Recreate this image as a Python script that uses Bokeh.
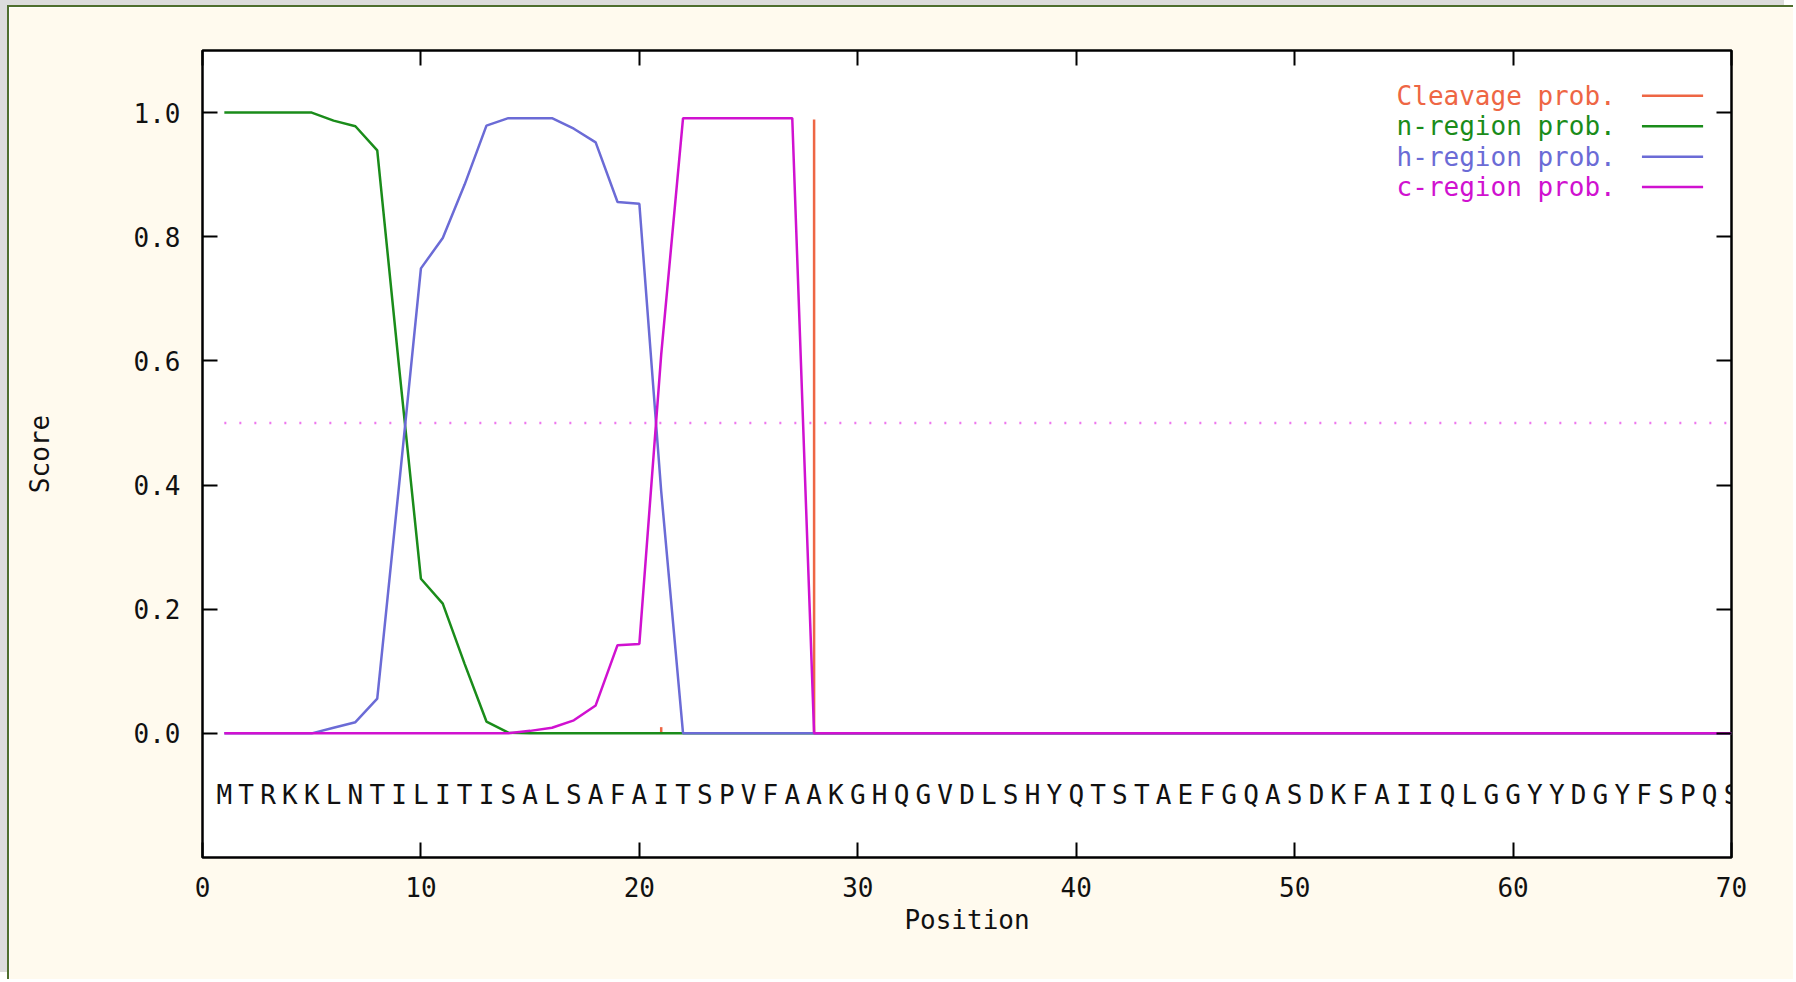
from bokeh.plotting import figure
from bokeh.models import Range1d, FixedTicker, PrintfTickFormatter, LinearAxis, CustomJSTickFormatter
from bokeh.embed import file_html
from bokeh.resources import INLINE

# ---------------- data ----------------
positions = [
    1, 2, 3, 4, 5, 6, 7, 8, 9, 10,
    11, 12, 13, 14, 15, 16, 17, 18, 19, 20,
    21, 22, 23, 24, 25, 26, 27, 28, 29, 30,
    31, 32, 33, 34, 35, 36, 37, 38, 39, 40,
    41, 42, 43, 44, 45, 46, 47, 48, 49, 50,
    51, 52, 53, 54, 55, 56, 57, 58, 59, 60,
    61, 62, 63, 64, 65, 66, 67, 68, 69, 70,
]
residues = list("MTRKKLNTILITISALSAFAITSPVFAAKGHQGVDLSHYQTSTAEFGQASDKFAIIQLGGYYDGYFSPQS")

cleavage = [
    0.0, 0.0, 0.0, 0.0, 0.0, 0.0, 0.0, 0.0, 0.0, 0.0,
    0.0, 0.0, 0.0, 0.0, 0.0, 0.0, 0.0, 0.0, 0.0, 0.0,
    0.010, 0.0, 0.0, 0.0, 0.0, 0.0, 0.0, 0.989, 0.0, 0.0,
    0.0, 0.0, 0.0, 0.0, 0.0, 0.0, 0.0, 0.0, 0.0, 0.0,
    0.0, 0.0, 0.0, 0.0, 0.0, 0.0, 0.0, 0.0, 0.0, 0.0,
    0.0, 0.0, 0.0, 0.0, 0.0, 0.0, 0.0, 0.0, 0.0, 0.0,
    0.0, 0.0, 0.0, 0.0, 0.0, 0.0, 0.0, 0.0, 0.0, 0.0,
]
n_region = [
    1.000, 1.000, 1.000, 1.000, 1.000, 0.987, 0.978, 0.939, 0.590, 0.249,
    0.209, 0.112, 0.019, 0.001, 0.0, 0.0, 0.0, 0.0, 0.0, 0.0,
    0.0, 0.0, 0.0, 0.0, 0.0, 0.0, 0.0, 0.0, 0.0, 0.0,
    0.0, 0.0, 0.0, 0.0, 0.0, 0.0, 0.0, 0.0, 0.0, 0.0,
    0.0, 0.0, 0.0, 0.0, 0.0, 0.0, 0.0, 0.0, 0.0, 0.0,
    0.0, 0.0, 0.0, 0.0, 0.0, 0.0, 0.0, 0.0, 0.0, 0.0,
    0.0, 0.0, 0.0, 0.0, 0.0, 0.0, 0.0, 0.0, 0.0, 0.0,
]
h_region = [
    0.0, 0.0, 0.0, 0.0, 0.0, 0.009, 0.018, 0.056, 0.400, 0.749,
    0.798, 0.884, 0.979, 0.991, 0.991, 0.991, 0.974, 0.952, 0.856, 0.853,
    0.390, 0.0, 0.0, 0.0, 0.0, 0.0, 0.0, 0.0, 0.0, 0.0,
    0.0, 0.0, 0.0, 0.0, 0.0, 0.0, 0.0, 0.0, 0.0, 0.0,
    0.0, 0.0, 0.0, 0.0, 0.0, 0.0, 0.0, 0.0, 0.0, 0.0,
    0.0, 0.0, 0.0, 0.0, 0.0, 0.0, 0.0, 0.0, 0.0, 0.0,
    0.0, 0.0, 0.0, 0.0, 0.0, 0.0, 0.0, 0.0, 0.0, 0.0,
]
c_region = [
    0.0, 0.0, 0.0, 0.0, 0.0, 0.0, 0.0, 0.0, 0.0, 0.0,
    0.0, 0.0, 0.0, 0.0, 0.004, 0.009, 0.021, 0.045, 0.142, 0.144,
    0.610, 0.991, 0.991, 0.991, 0.991, 0.991, 0.991, 0.0, 0.0, 0.0,
    0.0, 0.0, 0.0, 0.0, 0.0, 0.0, 0.0, 0.0, 0.0, 0.0,
    0.0, 0.0, 0.0, 0.0, 0.0, 0.0, 0.0, 0.0, 0.0, 0.0,
    0.0, 0.0, 0.0, 0.0, 0.0, 0.0, 0.0, 0.0, 0.0, 0.0,
    0.0, 0.0, 0.0, 0.0, 0.0, 0.0, 0.0, 0.0, 0.0, 0.0,
]
threshold = 0.5

series_names = ["Cleavage prob.", "n-region prob.", "h-region prob.", "c-region prob."]
series_colors = ["#ee6644", "#1a8c1a", "#6b6bd6", "#d011d0"]

x_ticks = [0, 10, 20, 30, 40, 50, 60, 70]
y_ticks = [0.0, 0.2, 0.4, 0.6, 0.8, 1.0]

# ---------------- style ----------------
FONT = "DejaVu Sans Mono"
FS = "26px"
CREAM = "#fffaee"
SEQ_Y = -0.1

p = figure(
    width=1786, height=974,
    x_range=Range1d(0, 70), y_range=Range1d(-0.2, 1.1),
    output_backend="svg", toolbar_location=None,
    min_border_left=193, min_border_right=64, min_border_top=43, min_border_bottom=124,
    background_fill_color="white", border_fill_color=CREAM,
    styles={
        "border-top": "2px solid #4e6e2e",
        "border-left": "2px solid #4e6e2e",
        "margin-left": "7px",
        "margin-top": "5px",
        "box-shadow": "-9px -7px 0 0 #dcdcdc",
    },
)
p.grid.visible = False
p.outline_line_color = "black"
p.outline_line_width = 2.5

def style_axis(ax):
    ax.major_tick_in = 15
    ax.major_tick_out = 0
    ax.minor_tick_in = 0
    ax.minor_tick_out = 0
    ax.major_tick_line_width = 2
    ax.major_tick_line_color = "black"
    ax.axis_line_color = None
    ax.major_label_text_font = FONT
    ax.major_label_text_font_size = FS
    ax.major_label_text_color = "#111111"
    ax.axis_label_text_font = FONT
    ax.axis_label_text_font_size = FS
    ax.axis_label_text_font_style = "normal"
    ax.axis_label_text_color = "#111111"

xa = p.xaxis[0]
style_axis(xa)
xa.ticker = FixedTicker(ticks=x_ticks)
xa.major_label_standoff = 19
xa.axis_label = "Position"
xa.axis_label_standoff = 5

ya = p.yaxis[0]
style_axis(ya)
ya.ticker = FixedTicker(ticks=y_ticks)
ya.formatter = PrintfTickFormatter(format="%.1f")
ya.major_label_standoff = 22
ya.axis_label = "Score"
ya.axis_label_standoff = 76

blank = CustomJSTickFormatter(code="return ''")
ra = LinearAxis(ticker=FixedTicker(ticks=y_ticks), formatter=blank)
style_axis(ra)
ra.major_label_standoff = 0
p.add_layout(ra, "right")
ta = LinearAxis(ticker=FixedTicker(ticks=x_ticks), formatter=blank)
style_axis(ta)
ta.major_label_standoff = 0
p.add_layout(ta, "above")

# threshold dotted line
p.line([positions[0], positions[-1]], [threshold, threshold],
       line_color="#ee77ee", line_width=2.5, line_dash="2 13")

# cleavage impulses
p.segment(x0=positions, y0=[0.0] * len(positions), x1=positions, y1=cleavage,
          line_color=series_colors[0], line_width=2.5)
p.line(positions, n_region, line_color=series_colors[1], line_width=2.5)
p.line(positions, h_region, line_color=series_colors[2], line_width=2.5)
p.line(positions, c_region, line_color=series_colors[3], line_width=2.5)

# sequence
p.text(x=positions, y=[SEQ_Y] * len(positions), text=residues,
       text_font={"value": FONT}, text_font_size={"value": FS},
       text_color="#111111", text_align="center", text_baseline="middle")

# legend (gnuplot-style: coloured label, then line sample)
LEG_TX = 64.7
LEG_X0, LEG_X1 = 65.9, 68.7
LEG_Y0, LEG_DY = 1.027, 0.049
leg_y = [LEG_Y0 - i * LEG_DY for i in range(len(series_names))]
p.text(x=[LEG_TX] * len(series_names), y=leg_y, text=series_names,
       text_color=series_colors, text_font={"value": FONT}, text_font_size={"value": FS},
       text_align="right", text_baseline="middle")
p.segment(x0=[LEG_X0] * len(series_names), y0=leg_y, x1=[LEG_X1] * len(series_names), y1=leg_y,
          line_color=series_colors, line_width=2.5)

open("out.html", "w").write(file_html(p, INLINE))
